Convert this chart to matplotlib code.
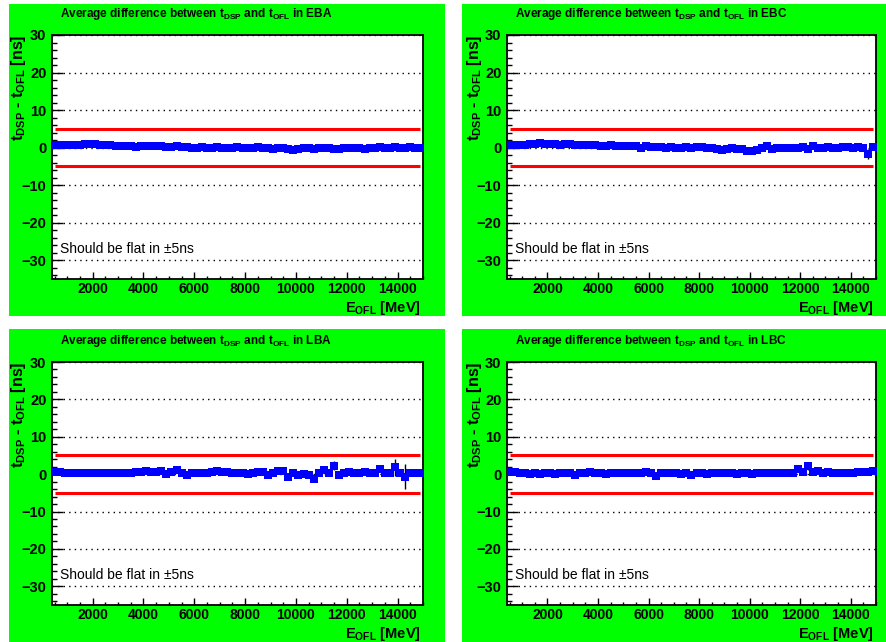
import numpy as np
import matplotlib
matplotlib.use("Agg")
import matplotlib.pyplot as plt
from matplotlib.patches import Rectangle
from matplotlib.ticker import MultipleLocator

plt.rcParams['font.family'] = ['Liberation Sans', 'DejaVu Sans']
plt.rcParams['mathtext.fontset'] = 'custom'
plt.rcParams['mathtext.rm'] = 'Liberation Sans:bold'
plt.rcParams['mathtext.bf'] = 'Liberation Sans:bold'
plt.rcParams['mathtext.it'] = 'Liberation Sans:bold'

# bin centres of E_OFL [MeV], 200 MeV bins from 400 to 15000
e_ofl = np.arange(500, 15000, 200)

eba = [0.6, 0.7, 0.6, 0.7, 0.8, 0.7,
       1.0, 0.9, 1.0,
       0.8, 0.7, 0.6,
       0.4, 0.5, 0.3, 0.4, 0.2, 0.4, 0.5, 0.3, 0.4,
       0.3, 0.2, 0.2, 0.3, 0.2, 0.1,
       0.0, -0.1, 0.1, 0.0, -0.1, 0.1, 0.0, -0.1, 0.0, 0.1, 0.0, -0.2, 0.0, 0.1, -0.1,
       -0.2, -0.3, -0.1, -0.2, -0.3, -0.7, -0.3, -0.1, -0.2, -0.3, -0.1, 0.0, -0.2,
       -0.3, -0.3, -0.2, -0.1, -0.2, 0.0, -0.3,
       0.0, -0.1, 0.1, 0.0, -0.2, 0.1, 0.0, -0.1, 0.1, 0.0, -0.1]

ebc = [0.7, 0.7, 0.8, 0.8,
       1.0, 1.0, 1.1, 1.0, 1.0, 1.0,
       0.7, 0.9, 1.0, 0.8, 0.8, 0.7, 0.8, 0.7,
       0.4, 0.5, 0.6, 0.4, 0.3, 0.3, 0.3, 0.4,
       0.0, 0.3, 0.1, 0.2, 0.1, 0.0, 0.2, -0.1, 0.0, 0.1, 0.0, 0.2, 0.1,
       0.0, -0.2, -0.4, -0.7, -0.3, -0.2, -0.5, -0.4, -0.8, -0.9,
       -0.6, -0.2, 0.3, -0.4, -0.1, -0.2, 0.0, -0.1, 0.0, 0.2, -0.3, 0.3, -0.2, -0.2,
       0.2, -0.1, 0.0, 0.1, 0.1, 0.0, 0.1, 0.0,
       -1.6, 0.2]

lba = [0.6, 0.5, 0.4, 0.4, 0.3, 0.3, 0.2, 0.3, 0.2, 0.2,
       0.4, 0.3, 0.4, 0.3, 0.2, 0.4, 0.6, 0.6,
       0.9, 0.6, 0.5, 0.8, 0.0, 0.5, 1.1,
       0.3, -0.1, 0.2, 0.3, 0.4, 0.4, 0.6, 0.9, 0.5,
       0.5, 0.2, 0.4, 0.3, 0.1, 0.3, 0.5, 0.6, -0.1, 0.3, 0.8,
       0.8, -0.7, 0.3, -0.2, 0.1, -0.3,
       -1.2, 0.2, 1.1, 0.2, 2.3, -0.3,
       0.4, 0.5, 0.3, 0.3, 0.5, 0.3, 0.4, 1.5, 0.4, 0.3, 1.8, 0.3, -0.7, 0.3, 0.4, 0.3]

lbc = [0.6, 0.5, 0.3, 0.3, 0.1, 0.2, 0.1, 0.3, 0.2, 0.1,
       0.3, 0.2, 0.4, -0.3, 0.2, 0.3, 0.5, 0.2, 0.3, 0.1,
       0.3, 0.2, 0.2, 0.4, 0.3, 0.2, 0.3, 0.5, 0.2, -0.4,
       0.2, 0.3, 0.2, 0.3, 0.1, 0.3, -0.3, 0.2, 0.3, 0.1,
       0.2, 0.4, 0.3, 0.2, 0.3, 0.1, 0.3, 0.2, 0.1, 0.3,
       0.2, 0.2, 0.3, 0.2, 0.3, 0.2, 0.3,
       1.5, 0.5, 2.1, 0.6,
       0.8, 0.4, 0.5, 0.3, 0.3, 0.3, 0.3, 0.3, 0.5, 0.6, 0.6, 0.8]

# errors: small everywhere (hidden by markers) except a few bins
err_small = 0.2
ebc_big = {47: 0.4, 71: 1.3}
lba_big = {44: 0.4, 46: 0.6, 48: 0.5, 51: 1.0, 53: 0.5, 55: 1.2, 64: 0.7, 67: 2.3, 69: 3.3}
lbc_big = {57: 0.5, 59: 1.0}

partitions = ["EBA", "EBC", "LBA", "LBC"]
values = [eba, ebc, lba, lbc]
big_errs = [{}, ebc_big, lba_big, lbc_big]

W, H = 887, 642
fig = plt.figure(figsize=(W / 100, H / 100), dpi=100)

# pad rectangles and frame boxes, in pixels (x0, y0, x1, y1) from top-left
pads = [(9, 4, 445, 316), (462, 4, 887, 316), (9, 329, 445, 642), (462, 329, 887, 642)]
frames = [(52, 35, 423, 279), (507, 35, 876, 279), (52, 362, 423, 605), (507, 362, 876, 605)]

for part, vals, bigs, pad, fr in zip(partitions, values, big_errs, pads, frames):
    x0, y0, x1, y1 = pad
    fig.add_artist(Rectangle((x0 / W, 1 - y1 / H), (x1 - x0) / W, (y1 - y0) / H,
                             transform=fig.transFigure, facecolor='#00ff00',
                             edgecolor='none', zorder=0))
    fx0, fy0, fx1, fy1 = fr
    ax = fig.add_axes([fx0 / W, 1 - fy1 / H, (fx1 - fx0) / W, (fy1 - fy0) / H])
    ax.set_facecolor('white')

    err = np.full(len(vals), err_small)
    for k, v in bigs.items():
        err[k] = v

    for yg in [-30, -20, -10, 0, 10, 20, 30]:
        ax.axhline(yg, color='black', lw=1.0, ls=(0, (1, 3)), zorder=1)
    ax.hlines([5, -5], e_ofl[0], e_ofl[-1], color='#ff0000', lw=2.2, zorder=2)
    ax.errorbar(e_ofl, vals, yerr=err, fmt='none', ecolor='black', elinewidth=1.0,
                capsize=0, zorder=3)
    ax.plot(e_ofl, vals, ls='none', marker='s', ms=5.4, color='#0000ff',
            markeredgewidth=0, zorder=4)

    ax.set_xlim(400, 15000)
    ax.set_ylim(-35, 30)
    ax.xaxis.set_major_locator(MultipleLocator(2000))
    ax.xaxis.set_minor_locator(MultipleLocator(500))
    ax.yaxis.set_major_locator(MultipleLocator(10))
    ax.yaxis.set_minor_locator(MultipleLocator(2))
    ax.tick_params(axis='both', which='both', direction='in', top=False, right=False,
                   width=1.0, labelsize=10.5)
    ax.tick_params(axis='y', which='major', length=8, pad=4)
    ax.tick_params(axis='y', which='minor', length=3.8)
    ax.tick_params(axis='x', which='major', length=5, pad=2.5, labelsize=10)
    ax.tick_params(axis='x', which='minor', length=2.3)
    for lab in ax.get_xticklabels() + ax.get_yticklabels():
        lab.set_fontweight('bold')
    for sp in ax.spines.values():
        sp.set_linewidth(1.3)

    ax.text(0.022, 1.086, r"Average difference between t$_{\mathbf{DSP}}$ and t$_{\mathbf{OFL}}$ in " + part,
            transform=ax.transAxes, fontsize=8.5, fontweight='bold', ha='left', va='center')
    ax.text(-0.089, 1.0, r"t$_{\mathbf{DSP}}$ - t$_{\mathbf{OFL}}$ [ns]", transform=ax.transAxes,
            rotation=90, fontsize=11.5, fontweight='bold', ha='center', va='top')
    ax.text(0.995, -0.083, r"E$_{\mathbf{OFL}}$ [MeV]", transform=ax.transAxes,
            fontsize=10.5, fontweight='bold', ha='right', va='top')
    ax.text(716, -27, u"Should be flat in \u00b15ns", fontsize=10, ha='left', va='center')

fig.savefig("out.png", dpi=100, facecolor='white')
